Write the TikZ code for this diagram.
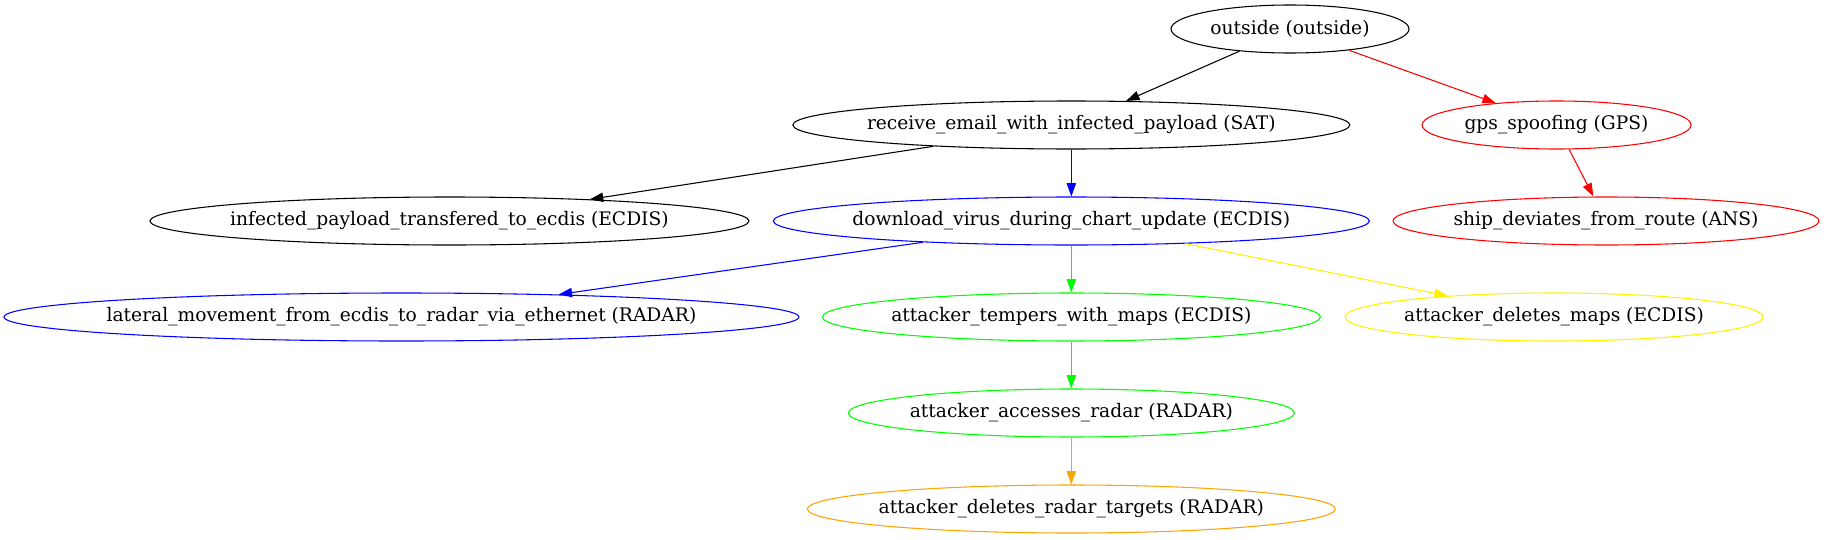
\documentclass[tikz,border=0pt]{standalone}
\usepackage{fontspec}
\setmainfont{DejaVu Serif}
\usetikzlibrary{arrows.meta,shapes.geometric}
\definecolor{gvorange}{HTML}{FFA500}
\tikzset{
  attack/.style={ellipse, draw=#1, line width=0.8pt, text=black,
    minimum height=36pt, inner xsep=-11pt,
    font=\fontsize{14pt}{17pt}\selectfont},
  attack/.default=black,
  link/.style={color=#1, line width=0.8pt, -{Triangle[length=10pt,width=7pt]}},
  link/.default=black
}

\begin{document}
\begin{tikzpicture}[x=1pt, y=-1pt]
  \useasboundingbox (0,0) rectangle (1368,404.25);
  % rank 1
  \node[attack, minimum width=178.5pt] (outside) at (967.5,21.75) {outside (outside)};
  % rank 2
  \node[attack, minimum width=417.75pt] (email) at (803.5,93.75) {receive\_email\_with\_infected\_payload (SAT)};
  \node[attack=red, minimum width=201.75pt] (gps) at (1167.4,93.75) {gps\_spoofing (GPS)};
  % rank 3
  \node[attack, minimum width=449.25pt] (transfer) at (337.1,165.75) {infected\_payload\_transfered\_to\_ecdis (ECDIS)};
  \node[attack=blue, minimum width=447pt] (download) at (803.5,165.75) {download\_virus\_during\_chart\_update (ECDIS)};
  \node[attack=red, minimum width=319.5pt] (deviate) at (1204.5,165.75) {ship\_deviates\_from\_route (ANS)};
  % rank 4
  \node[attack=blue, minimum width=596.25pt] (lateral) at (301.1,237.75) {lateral\_movement\_from\_ecdis\_to\_radar\_via\_ethernet (RADAR)};
  \node[attack=green, minimum width=373.5pt] (tamper) at (803.5,237.75) {attacker\_tempers\_with\_maps (ECDIS)};
  \node[attack=yellow, minimum width=313.5pt] (delmaps) at (1165.5,237.75) {attacker\_deletes\_maps (ECDIS)};
  % rank 5
  \node[attack=green, minimum width=334.5pt] (radar) at (803.5,309.75) {attacker\_accesses\_radar (RADAR)};
  % rank 6
  \node[attack=gvorange, minimum width=396pt] (targets) at (803.5,381.75) {attacker\_deletes\_radar\_targets (RADAR)};

  \draw[link] (outside) -- (email);
  \draw[link=red] (outside) -- (gps);
  \draw[link] (email) -- (transfer);
  \draw[link=blue] (email) -- (download);
  \draw[link=red] (gps) -- (deviate);
  \draw[link=blue] (download) -- (lateral);
  \draw[link=green] (download) -- (tamper);
  \draw[link=yellow] (download) -- (delmaps);
  \draw[link=green] (tamper) -- (radar);
  \draw[link=gvorange] (radar) -- (targets);
\end{tikzpicture}
\end{document}
